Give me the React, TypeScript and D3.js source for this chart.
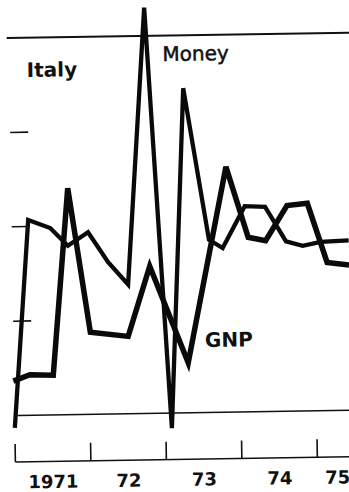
import React from "react";
import * as d3 from "d3";

// Money (thin, spiky) series: decimal year, value
const moneyYears = [1971.0, 1971.22, 1971.51, 1971.74, 1972.01, 1972.27, 1972.53, 1972.8, 1973.08, 1973.3, 1973.61, 1973.79, 1974.09, 1974.36, 1974.63, 1974.85, 1975.09, 1975.46];
const moneyValues = [-1.3, 20.7, 19.8, 17.9, 19.3, 16.1, 13.7, 43.0, -1.6, 34.4, 18.3, 17.4, 21.8, 21.7, 18.0, 17.5, 17.9, 18.0];

// GNP (thick) series
const gnpYears = [1970.99, 1971.21, 1971.52, 1971.75, 1972.02, 1972.52, 1972.82, 1973.31, 1973.85, 1974.13, 1974.36, 1974.65, 1974.92, 1975.17, 1975.46];
const gnpValues = [3.65, 4.3, 4.2, 24.0, 8.7, 8.2, 15.6, 5.3, 26.0, 18.5, 18.1, 21.8, 22.0, 15.7, 15.4];

const yearTicks = [1971, 1972, 1973, 1974, 1975];
const yearLabels = ["1971", "72", "73", "74", "75"];
const yearLabelPos = [1971.5, 1972.5, 1973.5, 1974.5, 1975.265];
const fullLines = [0, 40];
const shortTicks = [10, 20, 30];

const W = 349;
const H = 492;

export default function App() {
  const x = d3.scaleLinear().domain([1971, 1975]).range([12, 314]);
  const y = d3.scaleLinear().domain([0, 40]).range([413, 35.5]);

  const line = d3
    .line<[number, number]>()
    .x((d) => x(d[0]))
    .y((d) => y(d[1]));

  const moneyPath = line(moneyYears.map((t, i) => [t, moneyValues[i]]) as [number, number][]) || "";
  const gnpPath = line(gnpYears.map((t, i) => [t, gnpValues[i]]) as [number, number][]) || "";

  const font = "'DejaVu Sans', sans-serif";
  const axisY = 459.5;

  return (
    <svg
      width={W}
      height={H}
      viewBox={`0 0 ${W} ${H}`}
      style={{ position: "fixed", left: 0, top: 0, background: "#fff" }}
    >
      <rect x={0} y={0} width={W} height={H} fill="#fff" />
      <g transform="rotate(-0.9 175 246)">
        {/* full horizontal reference lines */}
        <line x1={10} x2={W + 10} y1={y(fullLines[1])} y2={y(fullLines[1])} stroke="#111" strokeWidth={2} />
        <line x1={15} x2={W + 10} y1={y(fullLines[0])} y2={y(fullLines[0])} stroke="#111" strokeWidth={1.6} />
        {/* short left ticks */}
        {shortTicks.map((v) => (
          <line key={v} x1={12} x2={30} y1={y(v)} y2={y(v)} stroke="#111" strokeWidth={1.6} />
        ))}
        {/* x axis */}
        <line x1={x(1971)} x2={W + 10} y1={axisY} y2={axisY} stroke="#111" strokeWidth={1.6} />
        {yearTicks.map((t) => (
          <line key={t} x1={x(t)} x2={x(t)} y1={axisY - 18} y2={axisY} stroke="#111" strokeWidth={1.6} />
        ))}
        {yearLabels.map((lab, i) => (
          <text
            key={lab}
            x={x(yearLabelPos[i])}
            y={486}
            textAnchor="middle"
            fontFamily={font}
            fontWeight="bold"
            fontSize={18}
            fill="#111"
          >
            {lab}
          </text>
        ))}
        {/* series */}
        <path d={gnpPath} fill="none" stroke="#0a0a0a" strokeWidth={5.5} strokeLinejoin="miter" />
        <path d={moneyPath} fill="none" stroke="#0a0a0a" strokeWidth={4.3} strokeLinejoin="miter" />
        {/* labels */}
        <text x={29.5} y={74.7} fontFamily={font} fontWeight="bold" fontSize={20} fill="#111">
          Italy
        </text>
        <text x={165.5} y={60.8} fontFamily={font} fontSize={20} fill="#111" stroke="#111" strokeWidth={0.5}>
          Money
        </text>
        <text x={203.5} y={347.5} fontFamily={font} fontWeight="bold" fontSize={20} fill="#111">
          GNP
        </text>
      </g>
    </svg>
  );
}
